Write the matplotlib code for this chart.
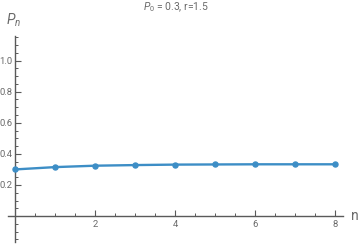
import numpy as np
import matplotlib
matplotlib.use("Agg")
import matplotlib.pyplot as plt
from matplotlib.ticker import MultipleLocator

# iterates of the logistic map
n_vals = [0, 1, 2, 3, 4, 5, 6, 7, 8]
p_vals = [0.300, 0.315, 0.324, 0.328, 0.331, 0.332, 0.333, 0.333, 0.333]
x_ticks = [2, 4, 6, 8]
y_ticks = [0.2, 0.4, 0.6, 0.8, 1.0]
title_txt = r"$P_0$ = 0.3, r=1.5"

plt.rcParams['font.family'] = ['Roboto', 'DejaVu Sans']
plt.rcParams['mathtext.fontset'] = 'custom'
plt.rcParams['mathtext.it'] = 'Roboto:italic'
plt.rcParams['mathtext.rm'] = 'Roboto'

grey = '#6a6a6a'
axis_col = '#5a5a5a'
line_col = '#3d8ec6'

fig = plt.figure(figsize=(3.6, 2.44), dpi=100)
ax = fig.add_axes([8 / 360, 1.5 / 244, 335 / 360, 206 / 244])

ax.plot(n_vals, p_vals, color=line_col, lw=1.7, marker='o', ms=3.6,
        solid_capstyle='round', zorder=3)

ax.set_xlim(-0.18, 8.2)
ax.set_ylim(-0.17, 1.155)

# axes through the origin, Mathematica style
for s in ['top', 'right']:
    ax.spines[s].set_visible(False)
ax.spines['left'].set_position(('data', 0))
ax.spines['bottom'].set_position(('data', 0))
for s in ['left', 'bottom']:
    ax.spines[s].set_color(axis_col)
    ax.spines[s].set_linewidth(1.0)

ax.set_xticks(x_ticks)
ax.set_yticks(y_ticks)
ax.set_yticklabels([f"{v:.1f}" for v in y_ticks])
ax.xaxis.set_minor_locator(MultipleLocator(0.5))
ax.yaxis.set_minor_locator(MultipleLocator(0.05))
ax.tick_params(which='major', direction='in', length=4, width=0.8,
               color=axis_col, labelcolor=grey, labelsize=6.8, pad=3)
ax.tick_params(which='minor', direction='in', length=2.2, width=0.7,
               color=axis_col)
ax.tick_params(axis='y', which='major', pad=2)

fig.text(355 / 360, 1 - 216 / 244, "n", color=grey, fontsize=10,
         ha='center', va='center')
fig.text(14 / 360, 1 - 20 / 244, r"$P_n$", color=grey, fontsize=10,
         ha='center', va='center')
fig.text(176 / 360, 1 - 7 / 244, title_txt, color=grey, fontsize=7.5,
         ha='center', va='center')

fig.savefig("out.png", dpi=100)
